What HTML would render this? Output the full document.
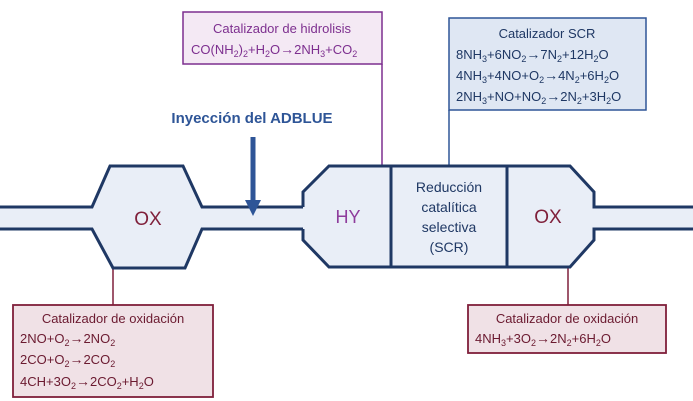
<!DOCTYPE html>
<html><head><meta charset="utf-8"><style>
html,body{margin:0;padding:0;background:#fff;}
svg{display:block;font-family:"Liberation Sans",sans-serif;}
.a{font-size:14px;font-weight:bold;}
</style></head><body>
<svg width="693" height="401" viewBox="0 0 693 401" xmlns="http://www.w3.org/2000/svg">
<line x1="382" y1="64" x2="382" y2="166" stroke="#7d2f8f" stroke-width="1.5"/>
<line x1="449" y1="110" x2="449" y2="166" stroke="#2f5597" stroke-width="1.5"/>
<line x1="113" y1="268" x2="113" y2="305" stroke="#7f1f3a" stroke-width="1.5"/>
<line x1="568" y1="267" x2="568" y2="305" stroke="#7f1f3a" stroke-width="1.5"/>
<path d="M0,207 H92 L110,166 H183 L202,207 H303 V192 L329,166 H570 L594,192 V207 H693 V229 H594 V240 L570,267 H329 L303,240 V229 H202 L185,268 H113 L92,229 H0 Z" fill="#e9eef7" stroke="none"/>
<g fill="none" stroke="#1f3864" stroke-width="3" stroke-linejoin="miter">
<path d="M0,207 H92 L110,166 H183 L202,207 H303"/>
<path d="M0,229 H92 L113,268 H185 L202,229 H303"/>
<path d="M303,229 V240 L329,267 H570 L594,240 V229 H693"/>
<path d="M303,207 V192 L329,166 H570 L594,192 V207 H693"/>
<line x1="391" y1="166" x2="391" y2="267"/>
<line x1="507" y1="166" x2="507" y2="267"/>
</g>
<line x1="253" y1="137" x2="253" y2="203" stroke="#2e5597" stroke-width="5"/>
<polygon points="245,200 261,200 253,216" fill="#2e5597"/>
<text x="252" y="123" text-anchor="middle" font-weight="bold" font-size="15" fill="#2e5597">Inyección del ADBLUE</text>
<text x="148" y="225" text-anchor="middle" font-size="19" fill="#7f1f3a">OX</text>
<text x="348" y="223" text-anchor="middle" font-size="18" fill="#8e3c9c">HY</text>
<text x="548" y="223" text-anchor="middle" font-size="19" fill="#7f1f3a">OX</text>
<g font-size="14" fill="#1f3864" text-anchor="middle">
<text x="449" y="192">Reducción</text>
<text x="449" y="212">catalítica</text>
<text x="449" y="232">selectiva</text>
<text x="449" y="252">(SCR)</text>
</g>
<rect x="183" y="12" width="199" height="52" fill="#f4e9f4" stroke="#7d2f8f" stroke-width="1.5"/>
<g font-size="13" fill="#7d2f8f">
<text x="282" y="33" text-anchor="middle">Catalizador de hidrolisis</text>
<text x="191" y="54">CO(NH<tspan font-size="9" dy="3">2</tspan><tspan dy="-3">)</tspan><tspan font-size="9" dy="3">2</tspan><tspan dy="-3">+H</tspan><tspan font-size="9" dy="3">2</tspan><tspan dy="-3">O</tspan><tspan class="a">→</tspan>2NH<tspan font-size="9" dy="3">3</tspan><tspan dy="-3">+CO</tspan><tspan font-size="9" dy="3">2</tspan></text>
</g>
<rect x="449" y="18" width="197" height="92" fill="#dfe7f3" stroke="#2f5597" stroke-width="1.5"/>
<g font-size="13" fill="#1f3864">
<text x="547" y="38" text-anchor="middle">Catalizador SCR</text>
<text x="456" y="59">8NH<tspan font-size="9" dy="3">3</tspan><tspan dy="-3">+6NO</tspan><tspan font-size="9" dy="3">2</tspan><tspan dy="-3" class="a">→</tspan>7N<tspan font-size="9" dy="3">2</tspan><tspan dy="-3">+12H</tspan><tspan font-size="9" dy="3">2</tspan><tspan dy="-3">O</tspan></text>
<text x="456" y="80">4NH<tspan font-size="9" dy="3">3</tspan><tspan dy="-3">+4NO+O</tspan><tspan font-size="9" dy="3">2</tspan><tspan dy="-3" class="a">→</tspan>4N<tspan font-size="9" dy="3">2</tspan><tspan dy="-3">+6H</tspan><tspan font-size="9" dy="3">2</tspan><tspan dy="-3">O</tspan></text>
<text x="456" y="101">2NH<tspan font-size="9" dy="3">3</tspan><tspan dy="-3">+NO+NO</tspan><tspan font-size="9" dy="3">2</tspan><tspan dy="-3" class="a">→</tspan>2N<tspan font-size="9" dy="3">2</tspan><tspan dy="-3">+3H</tspan><tspan font-size="9" dy="3">2</tspan><tspan dy="-3">O</tspan></text>
</g>
<rect x="13" y="305" width="200" height="92" fill="#f0e1e6" stroke="#7f1f3a" stroke-width="1.8"/>
<g font-size="13" fill="#6b1a30">
<text x="113" y="323" text-anchor="middle">Catalizador de oxidación</text>
<text x="20" y="343">2NO+O<tspan font-size="9" dy="3">2</tspan><tspan dy="-3" class="a">→</tspan>2NO<tspan font-size="9" dy="3">2</tspan></text>
<text x="20" y="364">2CO+O<tspan font-size="9" dy="3">2</tspan><tspan dy="-3" class="a">→</tspan>2CO<tspan font-size="9" dy="3">2</tspan></text>
<text x="20" y="386">4CH+3O<tspan font-size="9" dy="3">2</tspan><tspan dy="-3" class="a">→</tspan>2CO<tspan font-size="9" dy="3">2</tspan><tspan dy="-3">+H</tspan><tspan font-size="9" dy="3">2</tspan><tspan dy="-3">O</tspan></text>
</g>
<rect x="468" y="305" width="198" height="48" fill="#f0e1e6" stroke="#7f1f3a" stroke-width="1.8"/>
<g font-size="13" fill="#6b1a30">
<text x="567" y="323" text-anchor="middle">Catalizador de oxidación</text>
<text x="475" y="343">4NH<tspan font-size="9" dy="3">3</tspan><tspan dy="-3">+3O</tspan><tspan font-size="9" dy="3">2</tspan><tspan dy="-3" class="a">→</tspan>2N<tspan font-size="9" dy="3">2</tspan><tspan dy="-3">+6H</tspan><tspan font-size="9" dy="3">2</tspan><tspan dy="-3">O</tspan></text>
</g>
</svg>
</body></html>
